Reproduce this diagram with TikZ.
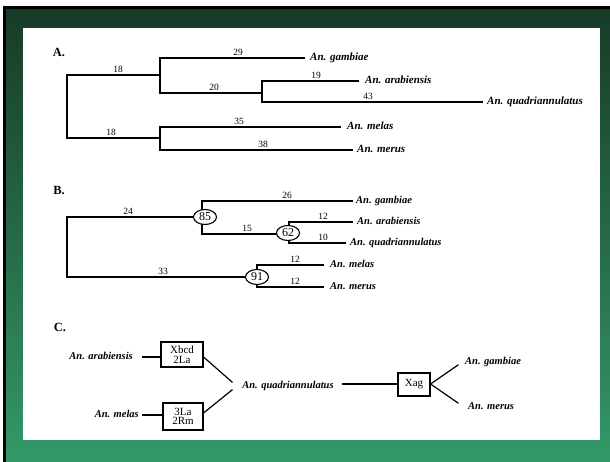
\documentclass[tikz,border=0pt]{standalone}
\usepackage{fontspec}
\setmainfont{Liberation Serif}
\usetikzlibrary{shapes.geometric}
\begin{document}
\begin{tikzpicture}[x=1pt,y=-1pt,
  br/.style={line width=1.2pt, line cap=rect},
  num/.style={font=\fontsize{9.5}{9.5}\selectfont, inner sep=0pt, anchor=base},
  spA/.style={font=\fontsize{11}{11}\selectfont\bfseries\itshape, inner sep=0pt, anchor=mid west},
  spB/.style={font=\fontsize{10.5}{10.5}\selectfont\bfseries\itshape, inner sep=0pt, anchor=mid west},
  spC/.style={font=\fontsize{10.5}{10.5}\selectfont\bfseries\itshape, inner sep=0pt},
  sec/.style={font=\fontsize{12.5}{12.5}\selectfont\bfseries, inner sep=0pt},
  boot/.style={draw, ellipse, fill=white, line width=1.1pt, inner sep=0pt, minimum width=23, minimum height=15, font=\fontsize{12}{12}\selectfont},
  chrom/.style={draw, fill=white, line width=1.1pt, align=center, inner sep=0pt, font=\fontsize{11}{9.5}\selectfont}
]
\useasboundingbox (0,0) rectangle (610,462);
% background
\fill[white] (0,0) rectangle (610,462);
\shade[top color={rgb,255:red,24;green,58;blue,40}, bottom color={rgb,255:red,52;green,153;blue,104}] (6,9) rectangle (610,462);
\fill[black] (3,6) rectangle (610,9);
\fill[black] (3,6) rectangle (6,462);
\fill[white] (23,28) rectangle (600,440);

% ---------- A ----------
\node[sec] (labA) at (59,52) {A.};
\coordinate (aR1) at (67,75);  \coordinate (aR2) at (67,138);
\coordinate (aN1t) at (160,58); \coordinate (aN1m) at (160,75); \coordinate (aN1b) at (160,93);
\coordinate (aN2t) at (262,81); \coordinate (aN2m) at (262,93); \coordinate (aN2b) at (262,102);
\coordinate (aN3t) at (160,127); \coordinate (aN3m) at (160,138); \coordinate (aN3b) at (160,150);
\coordinate (aGe) at (304,58); \coordinate (aAe) at (358,81); \coordinate (aQe) at (482,102);
\coordinate (aMe) at (340,127); \coordinate (aRe) at (352,150);
\draw[br] (aN1m) -- (aR1) -- (aR2) -- (aN3m);
\draw[br] (aGe) -- (aN1t) -- (aN1b) -- (aN2m);
\draw[br] (aAe) -- (aN2t) -- (aN2b) -- (aQe);
\draw[br] (aMe) -- (aN3t) -- (aN3b) -- (aRe);
\node[num] (a18a) at (118,72.5) {18};
\node[num] (a29) at (238,55.5) {29};
\node[num] (a20) at (214,90.5) {20};
\node[num] (a19) at (316,78.5) {19};
\node[num] (a43) at (368,99.5) {43};
\node[num] (a18b) at (111,135.5) {18};
\node[num] (a35) at (239,124.5) {35};
\node[num] (a38) at (263,147.5) {38};
\node[spA] (aG) at (310,58) {An. gambiae};
\node[spA] (aA) at (365,81) {An. arabiensis};
\node[spA] (aQ) at (487,102) {An. quadriannulatus};
\node[spA] (aM) at (347,127) {An. melas};
\node[spA] (aE) at (357,150) {An. merus};

% ---------- B ----------
\node[sec] (labB) at (59,190) {B.};
\coordinate (bR1) at (67,217); \coordinate (bR2) at (67,277);
\coordinate (bN1t) at (202,201); \coordinate (bN1b) at (202,234);
\coordinate (bN2t) at (289,222); \coordinate (bN2b) at (289,243);
\coordinate (bN3t) at (257,265); \coordinate (bN3b) at (257,287);
\coordinate (bGe) at (352,201); \coordinate (bAe) at (352,222); \coordinate (bQe) at (345,243);
\coordinate (bMe) at (323,265); \coordinate (bRe) at (323,287);
\draw[br] (205,217) -- (bR1) -- (bR2) -- (257,277);
\draw[br] (bGe) -- (bN1t) -- (bN1b) -- (288,234);
\draw[br] (bAe) -- (bN2t) -- (bN2b) -- (bQe);
\draw[br] (bMe) -- (bN3t) -- (bN3b) -- (bRe);
\node[boot] (b85) at (205,217) {85};
\node[boot] (b62) at (288,233) {62};
\node[boot] (b91) at (257,277) {91};
\node[num] (b24) at (128,214.5) {24};
\node[num] (b26) at (287,198.5) {26};
\node[num] (b15) at (247,231.5) {15};
\node[num] (b12a) at (323,219.5) {12};
\node[num] (b10) at (323,240.5) {10};
\node[num] (b33) at (163,274.5) {33};
\node[num] (b12b) at (295,262.5) {12};
\node[num] (b12c) at (295,284.5) {12};
\node[spB] (bG) at (356,201) {An. gambiae};
\node[spB] (bA) at (357,222) {An. arabiensis};
\node[spB] (bQ) at (350,243) {An. quadriannulatus};
\node[spB] (bM) at (330,265) {An. melas};
\node[spB] (bE) at (330,287) {An. merus};

% ---------- C ----------
\node[sec] (labC) at (60,327) {C.};
\node[spC, anchor=mid east] (cA) at (133,357) {An. arabiensis};
\node[spC, anchor=mid east] (cM) at (139,415) {An. melas};
\node[chrom, minimum width=42, minimum height=25] (box1) at (182,354.5) {Xbcd\\2La};
\node[chrom, minimum width=40, minimum height=27] (box2) at (183,416.5) {3La\\2Rm};
\node[spC] (cQ) at (288,386) {An. quadriannulatus};
\node[chrom, minimum width=32, minimum height=23] (box3) at (414,384.5) {Xag};
\node[spC, anchor=mid west] (cG) at (465,362) {An. gambiae};
\node[spC, anchor=mid west] (cE) at (468,407) {An. merus};
\coordinate (cAe) at (143,357); \coordinate (cMe) at (143,415);
\coordinate (q1) at (232,382); \coordinate (q2) at (232,390);
\coordinate (qe) at (343,384);
\coordinate (g1) at (458,365); \coordinate (m1) at (458,403);
\draw[br] (cAe) -- (box1.west |- cAe);
\draw[br] (cMe) -- (box2.west |- cMe);
\draw[br] (box1.east |- 0,357) -- (q1);
\draw[br] (box2.east |- 0,413) -- (q2);
\draw[br] (qe) -- (box3.west |- qe);
\draw[br] (box3.east |- 0,384) -- (g1);
\draw[br] (box3.east |- 0,384) -- (m1);
\end{tikzpicture}
\end{document}
